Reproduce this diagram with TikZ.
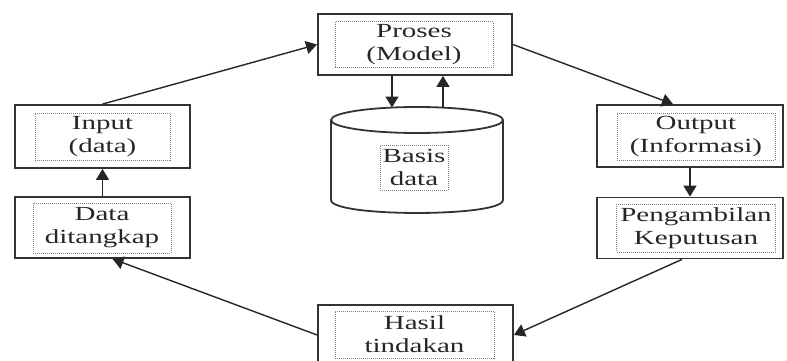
\documentclass[tikz,border=0pt]{standalone}
\usepackage{fontspec}
\setmainfont[FakeStretch=1.45]{Liberation Serif}
\usetikzlibrary{arrows.meta}
\begin{document}
\begin{tikzpicture}[x=1pt,y=-1pt,
  outerbox/.style={draw=black!80,line width=1.8pt,rectangle,inner sep=0pt},
  innerbox/.style={draw=gray,densely dotted,line width=1pt,rectangle,inner sep=0pt,
    align=center,text=black!85,font=\fontsize{20}{23}\selectfont},
  conn/.style={draw=black!85,line width=1.4pt,-{Triangle[length=11pt,width=13pt]}}]
\useasboundingbox (0,0) rectangle (787,361);
\clip (0,0) rectangle (787,361);
% Proses
\node[outerbox,minimum width=194pt,minimum height=61pt] (pro) at (415,44.5) {};
\node[innerbox,minimum width=158pt,minimum height=46pt] (proi) at (414,45) {Proses\\(Model)};
% Input
\node[outerbox,minimum width=175pt,minimum height=63pt] (inp) at (102.5,136.5) {};
\node[innerbox,minimum width=135pt,minimum height=47pt] (inpi) at (102.5,136.5) {Input\\(data)};
% Data ditangkap
\node[outerbox,minimum width=175pt,minimum height=61pt] (dat) at (102.5,227.5) {};
\node[innerbox,minimum width=138pt,minimum height=50pt] (dati) at (102,228) {Data\\ditangkap};
% Output
\node[outerbox,minimum width=186pt,minimum height=62pt] (out) at (690,136) {};
\node[innerbox,minimum width=158pt,minimum height=47pt] (outi) at (696,136.5) {Output\\(Informasi)};
% Pengambilan
\node[outerbox,minimum width=186pt,minimum height=61pt] (peng) at (690,228) {};
\node[innerbox,minimum width=159pt,minimum height=48pt] (pengi) at (696,228) {Pengambilan\\Keputusan};
% Hasil
\node[outerbox,minimum width=195pt,minimum height=60pt] (has) at (415.5,335) {};
\node[innerbox,minimum width=159pt,minimum height=47pt] (hasi) at (414.5,334.5) {Hasil\\tindakan};
% Cylinder
\draw[draw=black!80,line width=1.8pt] (417,120) ellipse [x radius=86, y radius=13];
\draw[draw=black!80,line width=1.8pt] (331,120) -- (331,200)
  .. controls (331,217.3) and (503,217.3) .. (503,200) -- (503,120);
\node[innerbox,minimum width=68pt,minimum height=45pt] (bas) at (414,167.5) {Basis\\data};
\coordinate (cyla) at (392,107.5);
\coordinate (cylb) at (443,107.5);
% Connectors
\draw[conn] (inp.north) -- (pro.west);
\draw[conn] (dat.north) -- (inp.south);
\draw[conn] (pro.east) -- ([xshift=-17pt]out.north);
\draw[conn] (out.south) -- (peng.north);
\draw[conn] ([xshift=-8pt]peng.south) -- (has.east);
\draw[conn] (has.west) -- ([xshift=10pt]dat.south);
\draw[conn] ([xshift=-23pt]pro.south) -- (cyla);
\draw[conn] (cylb) -- ([xshift=28pt]pro.south);
\end{tikzpicture}
\end{document}
